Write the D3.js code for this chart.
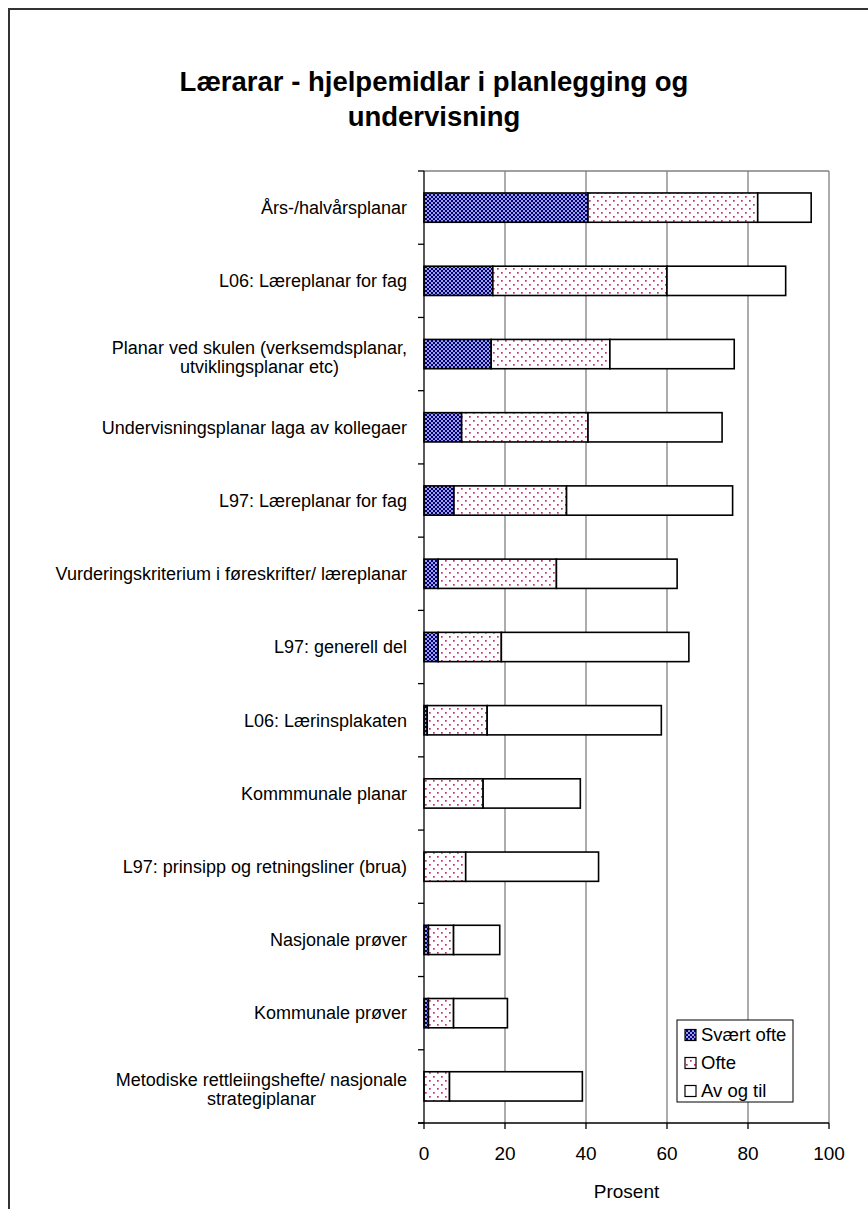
<!DOCTYPE html>
<html>
<head>
<meta charset="utf-8">
<script src="https://cdn.jsdelivr.net/npm/d3@7"></script>
<style>
  body { margin: 0; background: #fff; }
  text { font-family: "Liberation Sans", Arial, sans-serif; fill: #000; }
</style>
</head>
<body>
<div id="chart"></div>
<script>
const width = 868;
const height = 1209;
const margin = { top: 171, right: 39, bottom: 86, left: 424 };

// data (percent per segment)
const categories = [
    "Års-/halvårsplanar",
    "L06: Læreplanar for fag",
    "Planar ved skulen (verksemdsplanar,|utviklingsplanar etc)",
    "Undervisningsplanar laga av kollegaer",
    "L97: Læreplanar for fag",
    "Vurderingskriterium i føreskrifter/ læreplanar",
    "L97: generell del",
    "L06: Lærinsplakaten",
    "Kommmunale planar",
    "L97: prinsipp og retningsliner (brua)",
    "Nasjonale prøver",
    "Kommunale prøver",
    "Metodiske rettleiingshefte/ nasjonale|strategiplanar"
];
const svaertOfte = [40.5, 17.0, 16.6, 9.3, 7.4, 3.5, 3.5, 0.8, 0, 0, 1.1, 1.1, 0];
const ofte = [41.9, 43.0, 29.3, 31.2, 27.8, 29.2, 15.6, 14.8, 14.6, 10.3, 6.2, 6.2, 6.3];
const avOgTil = [13.2, 29.3, 30.7, 33.1, 41.0, 29.8, 46.3, 43.0, 24.0, 32.8, 11.4, 13.3, 32.8];
const seriesNames = ["Svært ofte", "Ofte", "Av og til"];
const xTicks = [0, 20, 40, 60, 80, 100];

const plotW = 405;
const plotH = 952;

const svg = d3.select("#chart")
    .append("svg")
    .attr("width", width)
    .attr("height", height);

// patterns
const defs = svg.append("defs");
const p1 = defs.append("pattern")
    .attr("id", "pat-svaert")
    .attr("patternUnits", "userSpaceOnUse")
    .attr("width", 4).attr("height", 4);
p1.append("rect").attr("width", 4).attr("height", 4).attr("fill", "#000080");
p1.append("path")
    .attr("d", "M0,0 L4,4 M4,0 L0,4")
    .attr("stroke", "#c8c8f0")
    .attr("stroke-width", 0.8);

const p2 = defs.append("pattern")
    .attr("id", "pat-ofte")
    .attr("patternUnits", "userSpaceOnUse")
    .attr("width", 8).attr("height", 8);
p2.append("rect").attr("width", 8).attr("height", 8).attr("fill", "#fff");
p2.append("rect").attr("x", 1).attr("y", 1).attr("width", 1.7).attr("height", 1.7).attr("fill", "#c0307a");
p2.append("rect").attr("x", 5).attr("y", 5).attr("width", 1.7).attr("height", 1.7).attr("fill", "#c0307a");

const fills = ["url(#pat-svaert)", "url(#pat-ofte)", "#fff"];

// outer frame: only left and top edges are inside the picture
svg.append("path")
    .attr("d", `M9,${height} V9 H${width}`)
    .attr("fill", "none")
    .attr("stroke", "#333")
    .attr("stroke-width", 2);

// title
const title = ["Lærarar - hjelpemidlar i planlegging og", "undervisning"];
svg.selectAll(".title")
    .data(title)
    .enter()
    .append("text")
    .attr("x", 434)
    .attr("y", (d, i) => 91 + i * 35)
    .attr("text-anchor", "middle")
    .style("font-size", "27.5px")
    .style("font-weight", "bold")
    .text(d => d);

const g = svg.append("g")
    .attr("transform", `translate(${margin.left},${margin.top})`);

const xScale = d3.scaleLinear()
    .domain([0, 100])
    .range([0, plotW]);

const yScale = d3.scaleBand()
    .domain(categories)
    .range([0, plotH])
    .paddingInner(0.6)
    .paddingOuter(0.3);

const bandStep = yScale.step();

// gridlines
g.selectAll(".grid")
    .data(xTicks.filter(d => d > 0))
    .enter()
    .append("line")
    .attr("x1", d => xScale(d)).attr("x2", d => xScale(d))
    .attr("y1", 0).attr("y2", plotH)
    .attr("stroke", "#808080")
    .attr("stroke-width", 1.3);
g.append("line")
    .attr("x1", 0).attr("x2", xScale(100))
    .attr("y1", 0).attr("y2", 0)
    .attr("stroke", "#808080")
    .attr("stroke-width", 1.3);

// stacked bars
const rows = categories.map((c, i) => ({ cat: c, s0: svaertOfte[i], s1: ofte[i], s2: avOgTil[i] }));
const stacked = d3.stack().keys(["s0", "s1", "s2"])(rows);

stacked.forEach((layer, li) => {
    g.selectAll(".bar" + li)
        .data(layer.filter(d => d[1] - d[0] > 0))
        .enter()
        .append("rect")
        .attr("x", d => xScale(d[0]))
        .attr("y", d => yScale(d.data.cat))
        .attr("width", d => xScale(d[1]) - xScale(d[0]))
        .attr("height", yScale.bandwidth())
        .attr("fill", fills[li])
        .attr("stroke", "#000")
        .attr("stroke-width", 1.6);
});

// y axis
g.append("line")
    .attr("x1", 0).attr("x2", 0)
    .attr("y1", 0).attr("y2", plotH)
    .attr("stroke", "#000").attr("stroke-width", 1.3);
g.selectAll(".ytick")
    .data(d3.range(categories.length + 1))
    .enter()
    .append("line")
    .attr("x1", -6).attr("x2", 0)
    .attr("y1", d => d * bandStep).attr("y2", d => d * bandStep)
    .attr("stroke", "#000").attr("stroke-width", 1.3);

// category labels (multi-line ones are centred on their widest line)
categories.forEach(c => {
    const lines = c.split("|");
    const cy = yScale(c) + yScale.bandwidth() / 2;
    const t = g.append("g");
    const texts = lines.map((l, i) => t.append("text")
        .attr("y", cy + (i - (lines.length - 1) / 2) * 19 + (lines.length > 1 ? 3 : 0))
        .attr("dy", "0.35em")
        .style("font-size", "18px")
        .text(l));
    const maxW = d3.max(texts, tx => tx.node().getComputedTextLength());
    texts.forEach(tx => tx.attr("x", -17 - maxW / 2).attr("text-anchor", "middle"));
});

// x axis
g.append("line")
    .attr("x1", -6).attr("x2", xScale(100))
    .attr("y1", plotH).attr("y2", plotH)
    .attr("stroke", "#000").attr("stroke-width", 1.3);
g.selectAll(".xtick")
    .data(xTicks)
    .enter()
    .append("line")
    .attr("x1", d => xScale(d)).attr("x2", d => xScale(d))
    .attr("y1", plotH).attr("y2", plotH + 6)
    .attr("stroke", "#000").attr("stroke-width", 1.3);
g.selectAll(".xlabel")
    .data(xTicks)
    .enter()
    .append("text")
    .attr("x", d => xScale(d))
    .attr("y", plotH + 30)
    .attr("dy", "0.35em")
    .attr("text-anchor", "middle")
    .style("font-size", "19px")
    .text(d => d);

g.append("text")
    .attr("x", xScale(50))
    .attr("y", plotH + 68)
    .attr("dy", "0.35em")
    .attr("text-anchor", "middle")
    .style("font-size", "19px")
    .text("Prosent");

// legend
const legend = svg.append("g").attr("transform", "translate(677,1020)");
legend.append("rect")
    .attr("width", 116).attr("height", 82)
    .attr("fill", "#fff")
    .attr("stroke", "#000").attr("stroke-width", 1);
seriesNames.forEach((name, i) => {
    const row = legend.append("g").attr("transform", `translate(8,${15 + i * 28})`);
    row.append("rect")
        .attr("x", 0).attr("y", -5.5)
        .attr("width", 11).attr("height", 11)
        .attr("fill", fills[i])
        .attr("stroke", "#000").attr("stroke-width", 1.2);
    row.append("text")
        .attr("x", 16).attr("y", 0)
        .attr("dy", "0.35em")
        .style("font-size", "18.5px")
        .text(name);
});
</script>
</body>
</html>
